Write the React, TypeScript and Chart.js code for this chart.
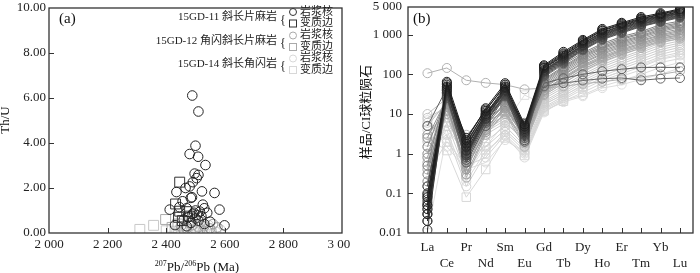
import React, { useEffect, useRef } from "react";
import { Chart, registerables } from "chart.js";
Chart.register(...registerables);

const SERIF = '"Liberation Serif", "Noto Sans CJK SC", serif';

// ---------- Panel (a): Th/U vs 207Pb/206Pb age ----------
const sampleNames = ["15GD-11 斜长片麻岩", "15GD-12 角闪斜长片麻岩", "15GD-14 斜长角闪岩"];
const zoneNames = ["岩浆核", "变质边"];

const core11: [number, number][] = [
  [2489, 6.11], [2510, 5.4], [2500, 3.88], [2480, 3.51], [2509, 3.39], [2534, 3.02],
  [2497, 2.64], [2510, 2.58], [2504, 2.44], [2491, 2.26], [2480, 2.07], [2466, 2.0],
  [2435, 1.82], [2522, 1.85], [2565, 1.78], [2488, 1.59], [2456, 1.41], [2484, 1.56],
  [2525, 1.26], [2412, 1.04], [2582, 1.04], [2599, 0.34], [2445, 1.15], [2470, 1.1],
  [2500, 1.0], [2515, 0.95], [2530, 1.1], [2490, 0.85], [2505, 0.8], [2520, 0.75],
  [2475, 0.7], [2495, 0.9], [2540, 0.9], [2460, 0.6], [2510, 0.55], [2485, 0.45],
  [2550, 0.5], [2430, 0.35], [2470, 0.3], [2500, 0.65], [2530, 0.4],
];
const rim11: [number, number][] = [
  [2446, 2.26], [2432, 1.29], [2446, 0.97], [2442, 0.7], [2470, 0.95], [2480, 0.75], [2455, 0.55],
];
const core12: [number, number][] = [
  [2450, 0.3], [2470, 0.2], [2490, 0.35], [2510, 0.25], [2530, 0.3], [2550, 0.2], [2480, 0.45],
  [2520, 0.5], [2560, 0.4], [2500, 0.15], [2540, 0.1], [2460, 0.12], [2575, 0.25],
];
const rim12: [number, number][] = [[2398, 0.6], [2420, 0.25], [2440, 0.4]];
const core14: [number, number][] = [
  [2440, 0.1], [2455, 0.2], [2475, 0.05], [2495, 0.1], [2515, 0.08], [2535, 0.2], [2555, 0.1],
  [2570, 0.05], [2585, 0.15], [2465, 0.3], [2505, 0.3], [2545, 0.35], [2525, 0.12], [2485, 0.18],
];
const rim14: [number, number][] = [[2310, 0.16], [2357, 0.34], [2400, 0.1], [2430, 0.08]];

// ---------- Panel (b): chondrite-normalised REE ----------
const reeLabels = ["La", "Ce", "Pr", "Nd", "Sm", "Eu", "Gd", "Tb", "Dy", "Ho", "Er", "Tm", "Yb", "Lu"];
const reeTicks = [0.01, 0.1, 1, 10, 100, 1000, 5000];

const ree11: number[][] = [
  [0.05, 65, 2.2, 14, 60, 5.5, 170, 370, 740, 1400, 2000, 2800, 3500, 4500],
  [0.03, 55, 1.8, 12, 55, 4.8, 160, 340, 700, 1300, 1900, 2600, 3300, 4300],
  [0.08, 48, 1.5, 10, 48, 4.2, 150, 320, 660, 1250, 1800, 2500, 3200, 4100],
  [0.02, 60, 1.2, 9, 45, 5.0, 145, 300, 620, 1150, 1700, 2400, 3000, 3900],
  [0.1, 42, 2.5, 13, 50, 3.8, 140, 290, 600, 1100, 1650, 2300, 2900, 3800],
  [0.04, 38, 1.0, 8, 40, 3.5, 130, 270, 560, 1050, 1550, 2200, 2800, 3600],
  [0.012, 50, 0.9, 7.5, 38, 4.5, 125, 260, 540, 1000, 1500, 2100, 2700, 3500],
  [0.06, 35, 1.4, 9.5, 42, 3.2, 120, 250, 520, 950, 1450, 2000, 2600, 3400],
  [0.15, 45, 2.0, 11, 36, 2.8, 115, 240, 500, 900, 1400, 1900, 2500, 3200],
  [0.03, 30, 0.8, 6.5, 32, 3.0, 110, 230, 480, 880, 1300, 1850, 2400, 3100],
  [0.07, 40, 1.1, 8.5, 34, 2.5, 105, 220, 450, 850, 1250, 1800, 2300, 3000],
  [0.02, 28, 0.7, 6, 30, 2.2, 100, 210, 430, 800, 1200, 1700, 2200, 2900],
  [0.09, 33, 1.6, 10, 35, 4.0, 95, 200, 420, 780, 1150, 1650, 2150, 2800],
  [0.04, 25, 0.6, 5, 28, 2.0, 90, 190, 400, 750, 1100, 1600, 2100, 2700],
  [5, 45, 1.0, 8, 30, 4.0, 60, 80, 100, 120, 135, 150, 150, 150],
  [0.05, 40, 0.9, 7, 28, 3.5, 50, 60, 70, 78, 81, 71, 78, 81],
];
const ree12: number[][] = [
  [0.5, 40, 1.8, 10, 30, 5.5, 85, 180, 350, 600, 900, 1200, 1800, 2200],
  [0.2, 32, 1.2, 8, 26, 4.5, 75, 160, 320, 550, 820, 1100, 1650, 2000],
  [1.5, 28, 2.5, 12, 28, 6.0, 70, 150, 300, 500, 760, 1050, 1500, 1900],
  [0.08, 22, 0.6, 5, 20, 3.8, 65, 140, 280, 470, 700, 950, 1400, 1750],
  [0.3, 35, 0.9, 7, 24, 4.0, 60, 130, 260, 440, 650, 900, 1300, 1650],
  [2.5, 25, 1.5, 9, 22, 3.5, 55, 120, 240, 400, 600, 850, 1200, 1550],
  [0.05, 18, 0.4, 4, 16, 3.0, 50, 110, 220, 370, 560, 780, 1100, 1400],
  [0.8, 30, 1.0, 6.5, 18, 3.2, 48, 100, 200, 340, 520, 720, 1000, 1300],
  [0.15, 20, 0.3, 3.5, 14, 2.5, 45, 95, 190, 320, 480, 680, 950, 1200],
  [1.0, 15, 0.5, 4.5, 15, 2.8, 40, 85, 170, 290, 440, 620, 880, 1100],
  [0.4, 24, 0.7, 5.5, 17, 2.2, 38, 80, 160, 270, 410, 580, 820, 1000],
  [3.0, 12, 1.3, 6, 12, 2.0, 35, 75, 150, 250, 380, 540, 760, 950],
  [0.1, 16, 0.25, 3, 11, 1.8, 32, 68, 135, 230, 350, 500, 700, 880],
  [0.6, 10, 0.45, 3.8, 10, 1.5, 30, 60, 120, 210, 320, 460, 650, 800],
  [107, 145, 71, 61, 55, 42, 45, 50, 58, 65, 75, 85, 100, 120],
];
const ree14: number[][] = [
  [10, 25, 3.0, 8, 15, 5.0, 40, 80, 150, 260, 400, 600, 900, 1100],
  [5, 20, 2.0, 6, 12, 4.2, 35, 70, 130, 230, 350, 520, 800, 1000],
  [8, 15, 2.5, 7, 10, 3.6, 30, 60, 115, 200, 310, 460, 700, 900],
  [2, 12, 1.0, 4, 8, 3.0, 27, 52, 100, 175, 270, 400, 620, 800],
  [6, 18, 1.6, 5, 9, 2.6, 24, 46, 90, 155, 240, 360, 550, 700],
  [1, 8, 0.6, 3, 6, 2.2, 21, 40, 80, 135, 210, 320, 480, 620],
  [3, 10, 1.2, 3.5, 7, 2.0, 19, 36, 70, 120, 185, 280, 420, 550],
  [0.5, 6, 0.3, 2, 5, 1.6, 17, 32, 62, 105, 160, 240, 370, 480],
  [4, 5, 0.8, 1.5, 4, 1.4, 15, 28, 55, 92, 140, 210, 320, 420],
  [1.5, 3, 0.15, 1.0, 3.5, 1.2, 14, 25, 48, 80, 120, 180, 280, 360],
  [0.3, 2, 0.5, 0.8, 3, 1.0, 13, 23, 42, 70, 105, 155, 240, 300],
  [2.5, 1.2, 0.08, 0.4, 2.5, 0.9, 12, 21, 35, 60, 90, 130, 200, 250],
  [0.8, 4, 0.2, 1.2, 2.8, 0.8, 11, 22, 30, 50, 70, 100, 150, 200],
  [7, 1.5, 0.4, 0.6, 2.2, 1.1, 12, 20, 28, 45, 55, 75, 100, 145],
  [0.01, 3, 0.3, 1.5, 6, 30, 18, 30, 50, 80, 120, 170, 250, 330],
];
const rimLines14 = [11, 14];

function gray(v: number) {
  const h = Math.round(Math.min(255, v)).toString(16).padStart(2, "0");
  return `#${h}${h}${h}`;
}

function fmtThousands(v: number) {
  if (v >= 1000) {
    const s = String(Math.round(v));
    return s.slice(0, s.length - 3) + " " + s.slice(s.length - 3);
  }
  return String(v);
}

const frameTicks = {
  id: "frameTicks",
  afterDatasetsDraw(chart: any) {
    const { ctx, chartArea: a, scales } = chart;
    ctx.save();
    ctx.strokeStyle = "#333";
    ctx.lineWidth = 1;
    const xs = scales.x;
    const ys = scales.y;
    ctx.beginPath();
    xs.ticks.forEach((t: any) => {
      const px = Math.round(xs.getPixelForValue(t.value)) + 0.5;
      if (px <= a.left + 2 || px >= a.right - 2) return;
      ctx.moveTo(px, a.bottom);
      ctx.lineTo(px, a.bottom - 5);
    });
    ys.ticks.forEach((t: any) => {
      const py = Math.round(ys.getPixelForValue(t.value)) + 0.5;
      if (py <= a.top + 2 || py >= a.bottom - 2) return;
      ctx.moveTo(a.left, py);
      ctx.lineTo(a.left + 5, py);
    });
    ctx.stroke();
    ctx.lineWidth = 1.3;
    ctx.strokeRect(a.left, a.top, a.right - a.left, a.bottom - a.top);
    ctx.restore();
  },
};

const leftDecor = {
  id: "leftDecor",
  afterDraw(chart: any) {
    const ctx = chart.ctx;
    ctx.save();
    ctx.fillStyle = "#111";
    ctx.textBaseline = "middle";
    ctx.font = `15px ${SERIF}`;
    ctx.textAlign = "left";
    ctx.fillText("(a)", 59, 19);
    // legend
    const colors = ["#333", "#aaa", "#d8d8d8"];
    const ys = [17.5, 41, 64];
    sampleNames.forEach((name, i) => {
      const y = ys[i];
      ctx.fillStyle = "#222";
      ctx.font = `11px ${SERIF}`;
      ctx.textAlign = "right";
      ctx.fillText(name, 277, y);
      ctx.font = `12px ${SERIF}`;
      ctx.textAlign = "center";
      ctx.fillText("{", 283, y + 3);
      ctx.strokeStyle = colors[i];
      ctx.lineWidth = 1;
      ctx.beginPath();
      ctx.arc(293, y - 5.5, 3.5, 0, Math.PI * 2);
      ctx.stroke();
      ctx.strokeRect(289.5, y + 2.5, 7, 7);
      ctx.fillStyle = "#222";
      ctx.font = `11px ${SERIF}`;
      ctx.textAlign = "left";
      ctx.fillText(zoneNames[0], 300, y - 5.5);
      ctx.fillText(zoneNames[1], 300, y + 6);
    });
    // y title
    ctx.font = `13px ${SERIF}`;
    ctx.fillStyle = "#111";
    ctx.save();
    ctx.translate(6, 120);
    ctx.rotate(-Math.PI / 2);
    ctx.textAlign = "center";
    ctx.fillText("Th/U", 0, 0);
    ctx.restore();
    // x title with superscripts
    const parts: [string, boolean][] = [["207", true], ["Pb/", false], ["206", true], ["Pb (Ma)", false]];
    let total = 0;
    parts.forEach(([t, sup]) => {
      ctx.font = sup ? `8px ${SERIF}` : `13px ${SERIF}`;
      total += ctx.measureText(t).width;
    });
    let x = 197 - total / 2;
    ctx.textAlign = "left";
    ctx.textBaseline = "alphabetic";
    parts.forEach(([t, sup]) => {
      ctx.font = sup ? `8px ${SERIF}` : `13px ${SERIF}`;
      ctx.fillText(t, x, sup ? 266 : 271);
      x += ctx.measureText(t).width;
    });
    ctx.restore();
  },
};

const rightDecor = {
  id: "rightDecor",
  afterDraw(chart: any) {
    const ctx = chart.ctx;
    ctx.save();
    ctx.fillStyle = "#111";
    ctx.textBaseline = "middle";
    ctx.font = `15px ${SERIF}`;
    ctx.textAlign = "left";
    ctx.fillText("(b)", 63, 19);
    ctx.font = `13px ${SERIF}`;
    ctx.translate(17, 112);
    ctx.rotate(-Math.PI / 2);
    ctx.textAlign = "center";
    ctx.fillText("样品/CI球粒陨石", 0, 0);
    ctx.restore();
  },
};

function makeScatterSet(label: string, pts: [number, number][], color: string, style: string, r: number) {
  return {
    label,
    data: pts.map(([x, y]) => ({ x, y })),
    borderColor: color,
    backgroundColor: "rgba(0,0,0,0)",
    pointStyle: style,
    pointRadius: r,
    pointBorderWidth: 1,
    showLine: false,
  };
}

function makeReeSet(vals: number[], color: string, style = "circle") {
  return {
    data: vals.map((y, i) => ({ x: i, y })),
    borderColor: color,
    backgroundColor: "rgba(0,0,0,0)",
    borderWidth: 1,
    pointRadius: style === "rect" ? 6 : 4.5,
    pointStyle: style,
    pointBorderWidth: 1,
    tension: 0,
  };
}

export default function App() {
  const leftRef = useRef<HTMLCanvasElement>(null);
  const rightRef = useRef<HTMLCanvasElement>(null);

  useEffect(() => {
    Chart.defaults.font.family = SERIF;
    Chart.defaults.color = "#222";

    const left = new Chart(leftRef.current!, {
      type: "scatter",
      data: {
        datasets: [
          makeScatterSet("11c", core11, "#222", "circle", 4.8),
          makeScatterSet("11r", rim11, "#333", "rect", 7),
          makeScatterSet("12c", core12, "#999", "circle", 4.8),
          makeScatterSet("12r", rim12, "#aaa", "rect", 7),
          makeScatterSet("14c", core14, "#c8c8c8", "circle", 4.8),
          makeScatterSet("14r", rim14, "#c8c8c8", "rect", 7),
        ] as any,
      },
      options: {
        responsive: false,
        animation: false,
        events: [],
        layout: { padding: { left: 0, top: 5, right: 7, bottom: 0 } },
        plugins: { legend: { display: false }, tooltip: { enabled: false } },
        scales: {
          x: {
            type: "linear",
            min: 2000,
            max: 3000,
            grid: { display: false, drawTicks: false },
            border: { display: false },
            ticks: { stepSize: 200, padding: 4, font: { size: 13 }, callback: (v: any) => fmtThousands(v), maxRotation: 0 },
            afterFit: (s: any) => { s.height = 40; s.paddingLeft = 0; s.paddingRight = 0; },
          },
          y: {
            min: 0,
            max: 10,
            grid: { display: false, drawTicks: false },
            border: { display: false },
            ticks: { stepSize: 2, padding: 3, font: { size: 13 }, callback: (v: any) => Number(v).toFixed(2) },
            afterFit: (s: any) => { s.width = 49; s.paddingTop = 0; s.paddingBottom = 0; },
          },
        },
      } as any,
      plugins: [frameTicks, leftDecor],
    });

    const datasets: any[] = [];
    ree11.forEach((v, i) => datasets.push(makeReeSet(v, gray(0x1a + i * 5))));
    ree12.forEach((v, i) => datasets.push(makeReeSet(v, gray(0x80 + i * 3.5))));
    ree14.forEach((v, i) => datasets.push(makeReeSet(v, gray(0xc0 + i * 2.2), rimLines14.includes(i) ? "rect" : "circle")));

    const right = new Chart(rightRef.current!, {
      type: "line",
      data: { datasets },
      options: {
        responsive: false,
        animation: false,
        events: [],
        layout: { padding: { left: 0, top: 5, right: 7, bottom: 0 } },
        plugins: { legend: { display: false }, tooltip: { enabled: false } },
        scales: {
          x: {
            type: "linear",
            min: -1,
            max: 13.67,
            grid: { display: false, drawTicks: false },
            border: { display: false },
            afterBuildTicks: (s: any) => { s.ticks = reeLabels.map((_, i) => ({ value: i })); },
            ticks: {
              autoSkip: false,
              maxRotation: 0,
              minRotation: 0,
              padding: 7,
              font: { size: 13 },
              callback: (v: any) => {
                const i = Math.round(v);
                const lab = reeLabels[i] ?? "";
                return i % 2 === 0 ? [lab, ""] : ["", lab];
              },
            },
            afterFit: (s: any) => { s.height = 40; s.paddingLeft = 0; s.paddingRight = 0; },
          },
          y: {
            type: "logarithmic",
            min: 0.01,
            max: 5000,
            grid: { display: false, drawTicks: false },
            border: { display: false },
            afterBuildTicks: (s: any) => { s.ticks = reeTicks.map((value) => ({ value })); },
            ticks: {
              padding: 6,
              font: { size: 13 },
              callback: (v: any) => fmtThousands(Number(v)),
            },
            afterFit: (s: any) => { s.width = 58; s.paddingTop = 0; s.paddingBottom = 0; },
          },
        },
      } as any,
      plugins: [frameTicks, rightDecor],
    });

    return () => {
      left.destroy();
      right.destroy();
    };
  }, []);

  return (
    <div style={{ position: "fixed", left: 0, top: 0, width: 700, height: 273, background: "#fff" }}>
      <div style={{ position: "absolute", left: 0, top: 0, width: 350, height: 273, overflow: "hidden" }}>
        <canvas ref={leftRef} width={350} height={273} style={{ width: 350, height: 273, display: "block" }} />
      </div>
      <div style={{ position: "absolute", left: 350, top: 0, width: 350, height: 273 }}>
        <canvas ref={rightRef} width={350} height={273} style={{ width: 350, height: 273, display: "block" }} />
      </div>
    </div>
  );
}
